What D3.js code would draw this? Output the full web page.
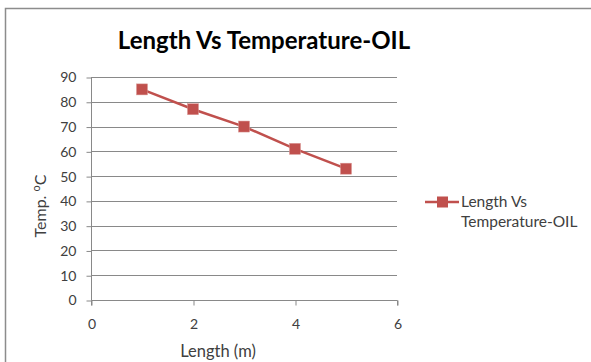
<!DOCTYPE html>
<html>
<head>
<meta charset="UTF-8">
<title></title>
<style>
  body { margin: 0; background: #fff; }
  text { font-family: Lato, "Open Sans", sans-serif; fill: #404040; }
</style>
</head>
<body>
<div id="svg"></div>
<script src="https://d3js.org/d3.v7.min.js"></script>
<script>
var lengths = [1, 2, 3, 4, 5];
var temps = [85, 77, 70, 61, 53];
var yTicks = [0, 10, 20, 30, 40, 50, 60, 70, 80, 90];
var xTicks = [0, 2, 4, 6];
var seriesName = ["Length Vs", "Temperature-OIL"];

var width = 591, height = 362;
var color = "#C0504D";

var svg = d3.select("#svg").append("svg")
    .attr("width", width)
    .attr("height", height);

// outer chart frame
svg.append("rect")
    .attr("x", 5.5).attr("y", 8.5)
    .attr("width", 600).attr("height", 400)
    .attr("fill", "none")
    .attr("stroke", "#8c8c8c")
    .attr("stroke-width", 1.5);

svg.append("text")
    .attr("x", 264).attr("y", 49)
    .attr("text-anchor", "middle")
    .style("font-size", "24px")
    .style("font-weight", "bold")
    .style("fill", "#000")
    .text("Length Vs Temperature-OIL");

var x = d3.scaleLinear().domain([0, 6]).range([91, 397]);
var y = d3.scaleLinear().domain([0, 90]).range([300, 77]);

// gridlines
svg.append("g").selectAll("line")
    .data(yTicks.slice(1))
    .join("line")
    .attr("x1", x(0)).attr("x2", x(6))
    .attr("y1", d => Math.round(y(d)) + 0.5)
    .attr("y2", d => Math.round(y(d)) + 0.5)
    .attr("stroke", "#898989");

var yAxis = svg.append("g")
    .attr("transform", "translate(" + (x(0) + 0.5) + ",0.5)")
    .call(d3.axisLeft(y).tickValues(yTicks).tickSize(5).tickPadding(10));
var xAxis = svg.append("g")
    .attr("transform", "translate(0.5," + (y(0) + 0.5) + ")")
    .call(d3.axisBottom(x).tickValues(xTicks).tickFormat(d3.format("d")).tickSize(5).tickPadding(14));

[yAxis, xAxis].forEach(function(a) {
    a.select(".domain").attr("stroke", "#898989");
    a.selectAll(".tick line").attr("stroke", "#898989");
    a.selectAll(".tick text")
        .style("font-family", "Lato, 'Open Sans', sans-serif")
        .style("font-size", "14px")
        .attr("fill", "#404040");
});
xAxis.select(".domain").attr("d", "M" + x(0) + ",5V0H" + x(6) + "V5");
yAxis.select(".domain").attr("d", "M0," + y(90) + "V" + y(0));

svg.append("text")
    .attr("x", 218).attr("y", 357)
    .attr("text-anchor", "middle")
    .style("font-size", "16.5px")
    .text("Length (m)");

var ylab = svg.append("text")
    .attr("transform", "translate(46,206) rotate(-90)")
    .attr("text-anchor", "middle")
    .style("font-size", "16px");
ylab.append("tspan").text("Temp. ");
ylab.append("tspan").attr("dy", -6).style("font-size", "11px").text("o");
ylab.append("tspan").attr("dy", 6).text("C");

var line = d3.line()
    .x(function(d, i) { return x(lengths[i]); })
    .y(function(d) { return y(d); });

svg.append("path")
    .datum(temps)
    .attr("fill", "none")
    .attr("stroke", color)
    .attr("stroke-width", 2.5)
    .attr("d", line);

svg.append("g").selectAll("rect")
    .data(temps)
    .join("rect")
    .attr("x", (d, i) => x(lengths[i]) - 5.5)
    .attr("y", d => y(d) - 5.5)
    .attr("width", 11).attr("height", 11)
    .attr("fill", color)
    .attr("stroke", "#d99694")
    .attr("stroke-width", 0.5);

// legend
var lg = svg.append("g").attr("transform", "translate(425,202)");
lg.append("line").attr("x1", 0).attr("x2", 34)
    .attr("stroke", color).attr("stroke-width", 2.5);
lg.append("rect").attr("x", 12).attr("y", -5.5)
    .attr("width", 11).attr("height", 11).attr("fill", color);
lg.selectAll("text.leg")
    .data(seriesName)
    .join("text")
    .attr("class", "leg")
    .attr("x", 36)
    .attr("y", (d, i) => 5 + i * 20)
    .style("font-size", "15.5px")
    .text(d => d);
</script>
</body>
</html>
